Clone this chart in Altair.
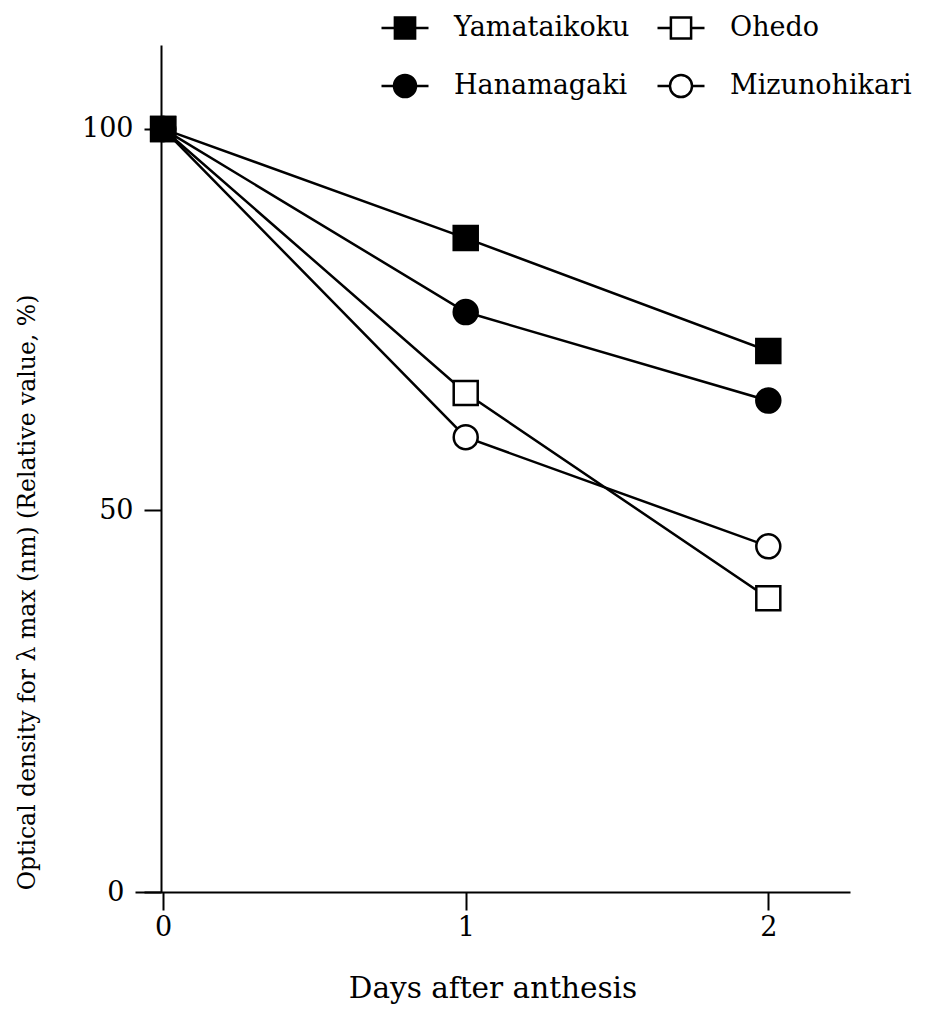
import altair as alt
import pandas as pd

days = [0, 1, 2]
varieties = ["Yamataikoku", "Ohedo", "Hanamagaki", "Mizunohikari"]
yamataikoku = [100, 85.7, 70.9]
ohedo = [100, 65.4, 38.5]
hanamagaki = [100, 76.0, 64.4]
mizunohikari = [100, 59.6, 45.3]

x_ticks = [0, 1, 2]
y_ticks = [0, 50, 100]

series = {
    "Yamataikoku": yamataikoku,
    "Ohedo": ohedo,
    "Hanamagaki": hanamagaki,
    "Mizunohikari": mizunohikari,
}
draw_order = ["Mizunohikari", "Ohedo", "Hanamagaki", "Yamataikoku"]
rows = []
for v in draw_order:
    for d, val in zip(days, series[v]):
        rows.append({"day": d, "value": val, "variety": v})
df = pd.DataFrame(rows)

FONT = "DejaVu Serif"

x_enc = alt.X(
    "day:Q",
    scale=alt.Scale(domain=[-0.093, 2.27], nice=False, zero=False),
    axis=alt.Axis(
        values=x_ticks, format="d", title="Days after anthesis",
        grid=False, domainColor="black", domainWidth=2,
        tickColor="black", tickWidth=2, tickSize=18,
        labelFont=FONT, labelFontSize=27, labelColor="black", labelPadding=4,
        titleFont=FONT, titleFontSize=29.5, titleFontWeight="normal", titleColor="black",
        titleY=96, titleBaseline="middle",
    ),
)
y_enc = alt.Y(
    "value:Q",
    scale=alt.Scale(domain=[0, 111], nice=False),
    axis=alt.Axis(
        values=y_ticks, title="Optical density for  λ max (nm) (Relative value, %)",
        grid=False, offset=-26, domainColor="black", domainWidth=2,
        tickColor="black", tickWidth=2, tickSize=17,
        labelFont=FONT, labelFontSize=27, labelColor="black",
        labelPadding={"condition": {"test": "datum.value === 0", "value": 20}, "value": 11},
        titleFont=FONT, titleFontSize=23.5, titleFontWeight="normal", titleColor="black",
        titleAngle=270, titleX=-134, titleY=547, titleBaseline="middle", titleAlign="center",
    ),
)

shape_dom = varieties
fill_range = ["black", "white", "black", "white"]

lines = alt.Chart(df).mark_line(color="black", strokeWidth=2.5).encode(
    x=x_enc, y=y_enc, detail="variety:N"
)

points = alt.Chart(df).mark_point(filled=True, stroke="black", strokeWidth=2.5, opacity=1).encode(
    x="day:Q",
    y="value:Q",
    shape=alt.Shape("variety:N", scale=alt.Scale(domain=shape_dom, range=["square", "square", "circle", "circle"]), legend=None),
    fill=alt.Fill("variety:N", scale=alt.Scale(domain=shape_dom, range=fill_range), legend=None),
    size=alt.Size("variety:N", scale=alt.Scale(domain=shape_dom, range=[576, 576, 729, 729]), legend=None),
)

sq_path = "M-1,0H-0.43M0.43,0H1M-0.43,-0.45H0.43V0.45H-0.43Z"
ci_path = "M-1,0H-0.47M0.47,0H1M-0.47,0A0.47,0.47 0 1,1 0.47,0A0.47,0.47 0 1,1 -0.47,0Z"

legend = alt.Legend(
    title=None, orient="none", legendX=245, legendY=-42, columns=2, gridAlign="none",
    direction="horizontal",
    symbolSize=2209, symbolStrokeWidth=2.5, symbolOpacity=1,
    labelFont=FONT, labelFontSize=27, labelColor="black", labelOffset=24,
    columnPadding=22, rowPadding=17, padding=0, labelLimit=400,
)

legend_layer = alt.Chart(df).mark_point(filled=True, opacity=0, strokeWidth=2.5).encode(
    x="day:Q",
    y="value:Q",
    shape=alt.Shape("variety:N", scale=alt.Scale(domain=shape_dom, range=[sq_path, sq_path, ci_path, ci_path]), legend=legend),
    fill=alt.Fill("variety:N", scale=alt.Scale(domain=shape_dom, range=fill_range), legend=legend),
    stroke=alt.Stroke("variety:N", scale=alt.Scale(domain=shape_dom, range=["black", "black", "black", "black"]), legend=legend),
)

chart = alt.layer(lines, points, legend_layer).resolve_scale(
    shape="independent", fill="independent", size="independent", stroke="independent"
).properties(
    width=715, height=847,
    autosize=alt.AutoSizeParams(type="none"),
    padding={"left": 135, "top": 45, "right": 83, "bottom": 117},
    background="white",
).configure_view(stroke=None)

chart.save("out.html", embed_options={"renderer": "svg", "actions": False})
